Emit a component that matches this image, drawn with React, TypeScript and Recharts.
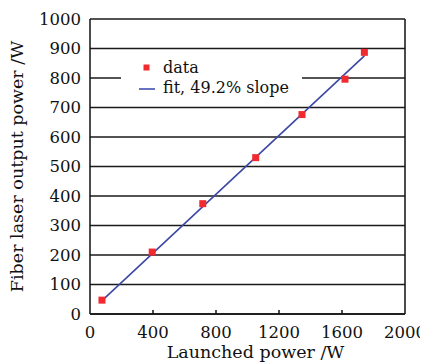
import React from 'react';
import { ComposedChart, Scatter, XAxis, YAxis, CartesianGrid, ReferenceLine, Legend, Label } from 'recharts';

const launchedPower = [76, 395, 716, 1052, 1346, 1619, 1742];
const outputPower = [47, 210, 374, 530, 676, 796, 887];
const fitX = [78, 1742];
const fitY = [46, 875];
const xTicks = [0, 400, 800, 1200, 1600, 2000];
const yTicks = [0, 100, 200, 300, 400, 500, 600, 700, 800, 900, 1000];

const dataPts = launchedPower.map((x, i) => ({ x, y: outputPower[i] }));
const fitPts = fitX.map((x, i) => ({ x, y: fitY[i] }));

const FONT = '"DejaVu Serif", serif';
const INK = '#111';

const XTick = (props: any) => {
  const { x, y, payload } = props;
  const v = payload.value;
  return (
    <g>
      {v > 0 && v < 2000 && <line x1={x} x2={x} y1={y} y2={y - 4} stroke={INK} strokeWidth={1.5} />}
      <text x={x} y={y + 24} textAnchor="middle" fontSize={16.5} fontFamily={FONT} fill={INK}>{v}</text>
    </g>
  );
};

const Square = (props: any) => {
  const { cx, cy } = props;
  if (cx == null || cy == null) return <g />;
  return <rect x={cx - 3.5} y={cy - 3.5} width={7} height={7} fill="#f02a2f" />;
};

const NoShape = () => <g />;

const LegendBox = () => (
  <svg width={181} height={45} style={{ display: 'block', background: '#fff' }}>
    <rect x={22.5} y={9.5} width={6} height={6} fill="#f02a2f" />
    <text x={42} y={18} fontSize={16} fontFamily={FONT} fill={INK}>data</text>
    <line x1={18} x2={34} y1={34} y2={34} stroke="#5563b8" strokeWidth={1.8} />
    <text x={42} y={38} fontSize={16} fontFamily={FONT} fill={INK}>fit, 49.2% slope</text>
  </svg>
);

export default function App() {
  return (
    <div style={{ fontFamily: FONT }}>
      <ComposedChart width={420} height={354} margin={{ top: 11, right: 23, bottom: 0, left: 0 }}>
        <CartesianGrid vertical={false} stroke="#1a1a1a" strokeWidth={1.5} />
        <XAxis
          type="number"
          dataKey="x"
          domain={[0, 2000]}
          ticks={xTicks}
          height={48}
          axisLine={{ stroke: INK, strokeWidth: 1.5 }}
          tickLine={false}
          tickSize={0}
          tickMargin={0}
          tick={<XTick />}
          allowDataOverflow
        >
          <Label
            content={(p: any) => {
              const vb = p.viewBox;
              return (
                <text x={vb.x + vb.width / 2 + 8} y={vb.y + 44} textAnchor="middle" fontSize={17.5} fontFamily={FONT} fill={INK}>
                  Launched power /W
                </text>
              );
            }}
          />
        </XAxis>
        <YAxis
          type="number"
          dataKey="y"
          domain={[0, 1000]}
          ticks={yTicks}
          width={82}
          axisLine={{ stroke: INK, strokeWidth: 1.5 }}
          tickLine={false}
          tickSize={0}
          tickMargin={9}
          tick={{ fontSize: 16.5, fontFamily: FONT, fill: INK }}
          allowDataOverflow
        >
          <Label
            content={(p: any) => {
              const vb = p.viewBox;
              const cx = vb.x + 15;
              const cy = vb.y + vb.height / 2;
              return (
                <text x={cx} y={cy} textAnchor="middle" fontSize={17.5} fontFamily={FONT} fill={INK} transform={`rotate(-90, ${cx}, ${cy})`}>
                  Fiber laser output power /W
                </text>
              );
            }}
          />
        </YAxis>
        <ReferenceLine x={2000} stroke={INK} strokeWidth={1.5} />
        <Legend
          layout="vertical"
          verticalAlign="middle"
          align="center"
          wrapperStyle={{ position: 'absolute', left: 113, top: 47, width: 181, height: 45 }}
          content={() => <LegendBox />}
        />
        <Scatter
          name="fit"
          data={fitPts}
          line={{ stroke: '#3b47a3', strokeWidth: 1.6 }}
          shape={<NoShape />}
          isAnimationActive={false}
        />
        <Scatter name="data" data={dataPts} shape={<Square />} isAnimationActive={false} />
      </ComposedChart>
    </div>
  );
}
